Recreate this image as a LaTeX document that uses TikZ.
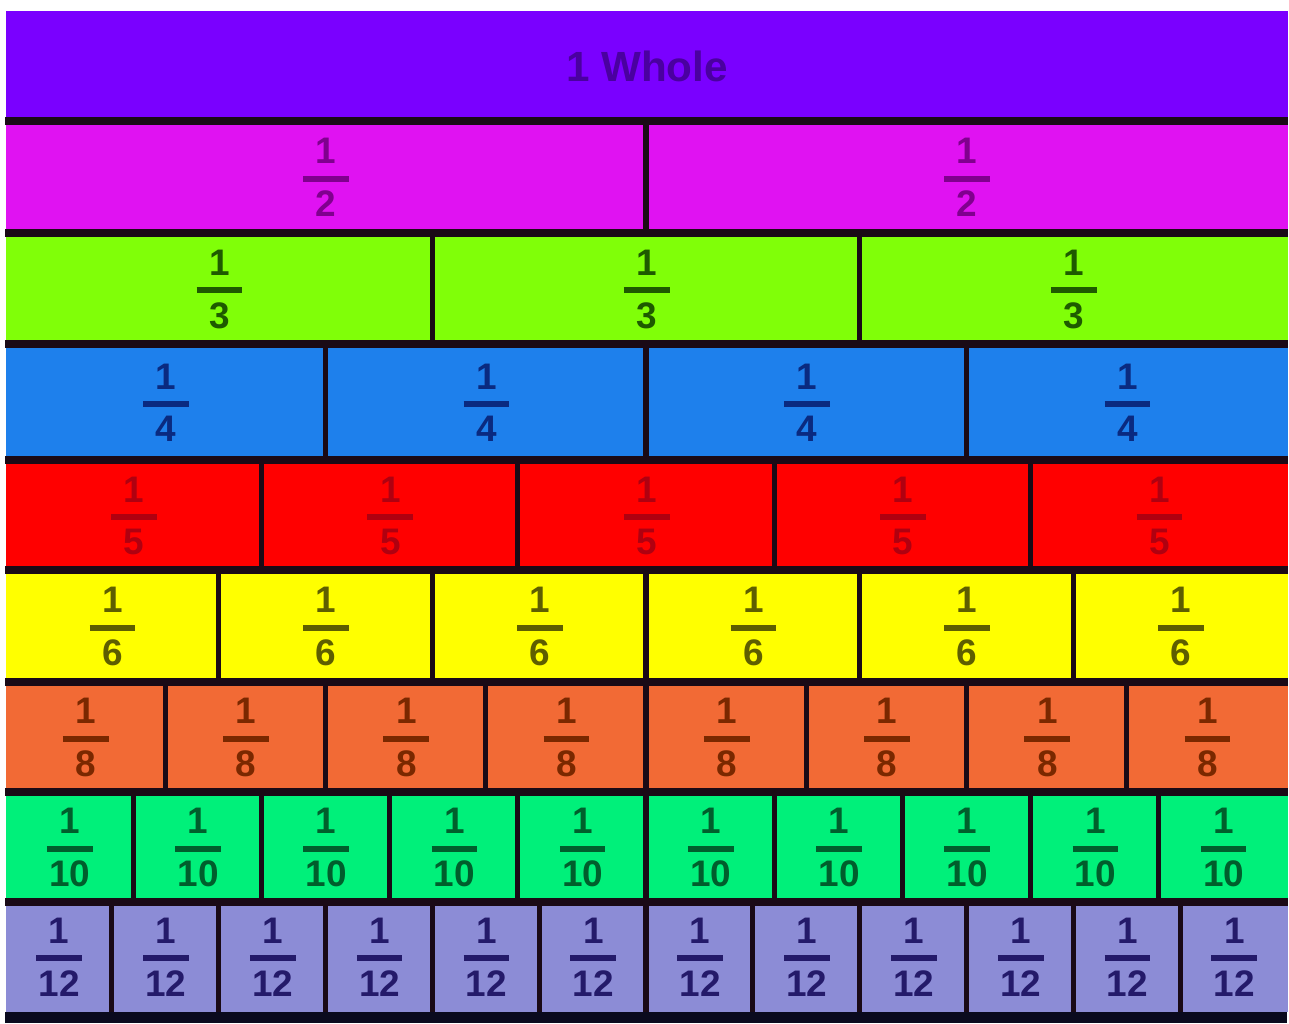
\documentclass[tikz,border=0pt]{standalone}
\usepackage{fontspec}
\setmainfont{Liberation Sans}

\definecolor{wholebg}{HTML}{7A00FF}
\definecolor{wholetx}{HTML}{4A00A0}
\definecolor{halfbg}{HTML}{E012F2}
\definecolor{halftx}{HTML}{80008E}
\definecolor{thirdbg}{HTML}{80FF08}
\definecolor{thirdtx}{HTML}{1E5A00}
\definecolor{quarterbg}{HTML}{1E80EC}
\definecolor{quartertx}{HTML}{0A2A80}
\definecolor{fifthbg}{HTML}{FF0000}
\definecolor{fifthtx}{HTML}{B00010}
\definecolor{sixthbg}{HTML}{FFFF00}
\definecolor{sixthtx}{HTML}{5E5E00}
\definecolor{eighthbg}{HTML}{F26A35}
\definecolor{eighthtx}{HTML}{7A2800}
\definecolor{tenthbg}{HTML}{00F07A}
\definecolor{tenthtx}{HTML}{005E2C}
\definecolor{twelfthbg}{HTML}{8C8CD6}
\definecolor{twelfthtx}{HTML}{241A6A}
\definecolor{edge}{HTML}{1A0A16}
\definecolor{base}{HTML}{0A0A1E}

% stacked unit fraction 1 over #1
\newcommand{\unitfrac}[1]{%
  \vbox{\offinterlineskip\halign{\hfil##\hfil\cr
    1\cr\noalign{\kern3.4pt}
    \rule{13pt}{1.7pt}\cr\noalign{\kern2.6pt}
    #1\cr}}}

\tikzstyle{piece} = [
    rectangle,
    inner sep=0pt,
    anchor=north west,
    font=\fontsize{10.5}{12}\selectfont\bfseries
]
\tikzstyle{rowline} = [line width=2.3pt, draw=edge]
\tikzstyle{divider} = [line width=1.5pt, draw=edge]

\begin{document}
\begin{tikzpicture}[x=0.01cm, y=-0.01cm]
\useasboundingbox (0,0) rectangle (1289,1023);

\node (whole) [piece, fill=wholebg, text=wholetx,
    minimum width=12.82cm, minimum height=1.11cm,
    font=\fontsize{12}{14}\selectfont\bfseries] at (5,10) {1 Whole};

\foreach \n/\top/\bot/\bg/\fg in {
    2/121/233/halfbg/halftx,
    3/233/344/thirdbg/thirdtx,
    4/344/460/quarterbg/quartertx,
    5/460/570/fifthbg/fifthtx,
    6/570/682/sixthbg/sixthtx,
    8/682/792/eighthbg/eighthtx,
    10/792/902/tenthbg/tenthtx,
    12/902/1011/twelfthbg/twelfthtx} {
  \pgfmathsetmacro{\w}{1282/\n}
  \pgfmathsetmacro{\h}{\bot-\top}
  \foreach \k in {1,...,\n} {
    \node (p\n-\k) [piece, fill=\bg, text=\fg,
        minimum width=\w*0.01cm, minimum height=\h*0.01cm]
        at ({5+(\k-1)*\w},\top) {\unitfrac{\n}};
  }
  \draw [rowline] (p\n-1.north west) -- (p\n-\n.north east);
  \foreach \k in {2,...,\n} {
    \draw [divider] (p\n-\k.north west) -- (p\n-\k.south west);
  }
}

\fill [base] (p12-1.south west) rectangle (1287,1023);

\end{tikzpicture}
\end{document}
